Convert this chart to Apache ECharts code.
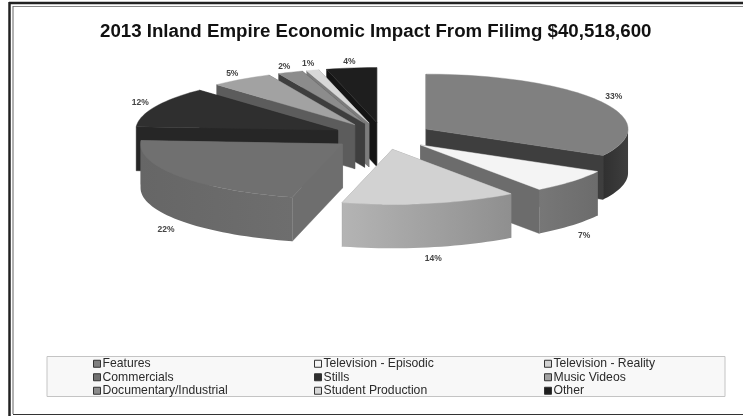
<!DOCTYPE html>
<html><head><meta charset="utf-8">
<style>
html,body{margin:0;padding:0;background:#fff;width:743px;height:416px;overflow:hidden}
#frame,#pie{position:absolute;left:0;top:0;width:743px;height:416px}
#pie{filter:blur(0.65px)}
</style>
<script src="https://cdn.jsdelivr.net/npm/echarts@6/dist/echarts.min.js"></script>
</head><body>
<div id="pie"></div><div id="frame"></div>
<script>
var titleText = '2013 Inland Empire Economic Impact From Filimg $40,518,600';
var categories = ['Features','Television - Episodic','Television - Reality','Commercials','Stills','Music Videos','Documentary/Industrial','Student Production','Other'];
var shares = [33,7,14,22,12,5,2,1,4];
var topColors = ['#808080','#f4f4f4','#d2d2d2','#707070','#2f2f2f','#a2a2a2','#8c8c8c','#d8d8d8','#1e1e1e'];
var wallLeft  = ['#303030','#777777','#b4b4b4','#666666','#222222','#5c5c5c','#3e3e3e','#7c7c7c','#141414'];
var wallRight = ['#3e3e3e','#6c6c6c','#8f8f8f','#6e6e6e','#262626','#5c5c5c','#3e3e3e','#7c7c7c','#141414'];
var paintOrder = [8,7,6,5,4,0,1,2,3];

var CX=383, CY=136, RX=202, RATIO=0.272, EXPLODE=50, DEPTH=44;
var total = shares.reduce(function(a,b){return a+b;},0);
var starts = []; (function(){var s=0; shares.forEach(function(v){starts.push(s); s+=v;});})();

function pt(ox,oy,r,deg){var a=deg*Math.PI/180; return [ox+r*Math.sin(a), oy-r*RATIO*Math.cos(a)];}
function drop(p){return [p[0],p[1]+DEPTH];}
function poly(points,fill,z){return {type:'polygon',z2:z,shape:{points:points},style:{fill:fill,stroke:fill,lineWidth:0.4}};}

function renderSlice(i){
  return function(params,api){
    var share=api.value(0), a0=starts[i]/total*360, a1=a0+share/total*360, mid=(a0+a1)/2;
    var apex=pt(CX,CY,EXPLODE,mid);
    var ox=apex[0], oy=apex[1], kids=[], d;
    var p0=pt(ox,oy,RX,a0), p1=pt(ox,oy,RX,a1);
    var walls=[[p0,(p0[1]+oy)/2],[p1,(p1[1]+oy)/2]].sort(function(a,b){return a[1]-b[1];});
    walls.forEach(function(w,k){
      kids.push(poly([apex,w[0],drop(w[0]),drop(apex)],wallRight[i],1+k));
    });
    var w0=Math.max(a0,90), w1=Math.min(a1,270);
    if(w1>w0){
      var up=[],dn=[];
      for(d=w0;d<w1;d+=2){var q=pt(ox,oy,RX,d); up.push(q); dn.unshift(drop(q));}
      var qe=pt(ox,oy,RX,w1); up.push(qe); dn.unshift(drop(qe));
      var grad=new echarts.graphic.LinearGradient(0,0,1,0,[{offset:0,color:wallLeft[i]},{offset:1,color:wallRight[i]}]);
      kids.push({type:'polygon',z2:4,shape:{points:up.concat(dn)},style:{fill:grad}});
    }
    var face=[apex];
    for(d=a0;d<a1;d+=2){face.push(pt(ox,oy,RX,d));}
    face.push(p1);
    kids.push(poly(face,topColors[i],5));
    var lab=pt(ox,oy,RX*1.08,mid);
    var front=Math.cos(mid*Math.PI/180)<0;
    kids.push({type:'text',z2:6,style:{text:share+'%',x:lab[0],y:lab[1]+(front?DEPTH+7:-2),align:'center',verticalAlign:'middle',fill:'#444',font:'bold 8.5px "Liberation Sans"'}});
    return {type:'group',children:kids};
  };
}

var series = paintOrder.map(function(i,order){
  return {type:'custom',name:categories[i],coordinateSystem:'none',z:2+order,silent:true,clip:false,
    itemStyle:{color:topColors[i]},data:[[shares[i]]],renderItem:renderSlice(i)};
});

function col(from,left){
  return {orient:'vertical',left:left,top:357,itemWidth:7,itemHeight:7,itemGap:0,padding:[0,0,0,0],selectedMode:false,
    textStyle:{fontFamily:'"Liberation Sans"',fontSize:12.2,color:'#2a2a2a',padding:[0,0,0,-3],height:13.5,lineHeight:13.5},
    data:[0,3,6].map(function(k){
      return {name:categories[from+k],icon:'rect',itemStyle:{color:topColors[from+k],borderColor:'#333',borderWidth:1}};
    })};
}

var pie=echarts.init(document.getElementById('pie'),null,{renderer:'canvas'});
pie.setOption({animation:false,backgroundColor:'#ffffff',
  legend:[col(0,93),col(1,314),col(2,544)],
  graphic:[{type:'rect',z:0,shape:{x:47,y:356.5,width:678,height:40},style:{fill:'#f8f8f8',stroke:'#c4c4c4',lineWidth:1}}],
  series:series});

var frame=echarts.init(document.getElementById('frame'),null,{renderer:'canvas'});
frame.setOption({animation:false,backgroundColor:'transparent',
  title:{text:titleText,left:95,top:17,textStyle:{fontFamily:'"Liberation Sans"',fontSize:18.7,fontWeight:'bold',color:'#111'}},
  graphic:[
    {type:'line',shape:{x1:9,y1:3,x2:743,y2:3},style:{stroke:'#222',lineWidth:2.5}},
    {type:'line',shape:{x1:9.5,y1:2,x2:9.5,y2:416},style:{stroke:'#222',lineWidth:2.5}},
    {type:'line',shape:{x1:13,y1:6.5,x2:743,y2:6.5},style:{stroke:'#888',lineWidth:1}},
    {type:'line',shape:{x1:13,y1:6,x2:13,y2:414},style:{stroke:'#666',lineWidth:1}},
    {type:'line',shape:{x1:13,y1:414.5,x2:743,y2:414.5},style:{stroke:'#333',lineWidth:1.2}}
  ]});
</script></body></html>
